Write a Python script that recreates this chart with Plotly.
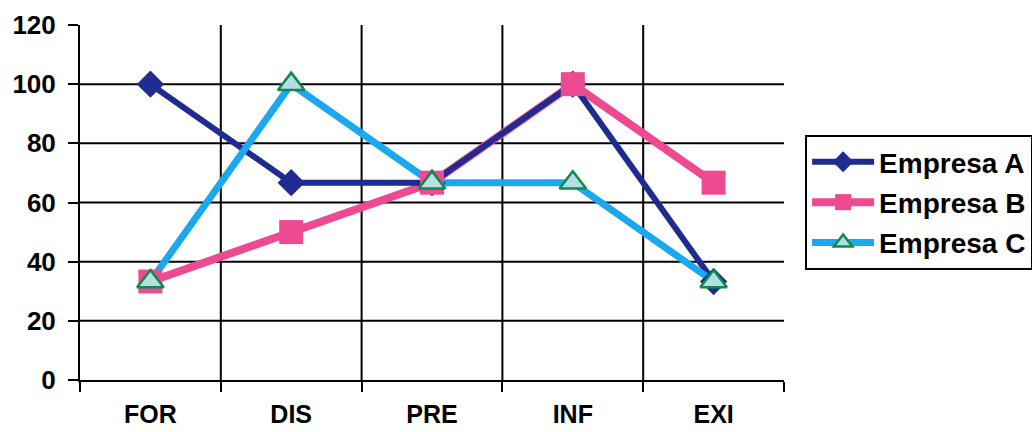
import plotly.graph_objects as go

# Chart data
categories = ["FOR", "DIS", "PRE", "INF", "EXI"]
empresa_a = [100, 66.7, 66.7, 100, 33.3]
empresa_b = [33.3, 50, 66.7, 100, 66.7]
empresa_c = [33.3, 100, 66.7, 66.7, 33.3]
y_ticks = [0, 20, 40, 60, 80, 100, 120]

FONT = dict(family="Arial, Liberation Sans, sans-serif", color="black", weight="bold")

series = {
    "Empresa A": dict(y=empresa_a, color="#1f2b8e", width=6,
                      marker=dict(symbol="diamond", size=21, color="#1f2b8e")),
    "Empresa B": dict(y=empresa_b, color="#ee4a92", width=8,
                      marker=dict(symbol="square", size=24, color="#ee4a92")),
    "Empresa C": dict(y=empresa_c, color="#1ca8ee", width=7,
                      marker=dict(symbol="triangle-up", size=23, color="#b4dde4",
                                  line=dict(color="#0f8a4a", width=2.5))),
}

fig = go.Figure()

# Lines first (stacking order B, A, C), then markers, then legend entries
for name in ["Empresa B", "Empresa A", "Empresa C"]:
    s = series[name]
    fig.add_trace(go.Scatter(x=categories, y=s["y"], mode="lines", showlegend=False,
                             line=dict(color=s["color"], width=s["width"]),
                             hoverinfo="skip"))
for name in ["Empresa A", "Empresa B", "Empresa C"]:
    s = series[name]
    fig.add_trace(go.Scatter(x=categories, y=s["y"], mode="markers", showlegend=False,
                             marker=s["marker"], name=name))
for name in ["Empresa A", "Empresa B", "Empresa C"]:
    s = series[name]
    fig.add_trace(go.Scatter(x=[None], y=[None], mode="lines+markers", name=name,
                             legendgroup=name,
                             line=dict(color=s["color"], width=s["width"]),
                             marker=s["marker"]))

# Gridlines: horizontal at inner y ticks, vertical at category boundaries
shapes = []
for v in y_ticks[1:-1]:
    shapes.append(dict(type="line", xref="paper", yref="y", x0=0, x1=1, y0=v, y1=v,
                       line=dict(color="black", width=2), layer="below"))
for i in range(1, len(categories)):
    shapes.append(dict(type="line", xref="x", yref="paper", x0=i - 0.5, x1=i - 0.5,
                       y0=0, y1=1, line=dict(color="black", width=2), layer="below"))

fig.update_layout(
    width=1032, height=432,
    margin=dict(l=80, r=248, t=25, b=52, autoexpand=False),
    paper_bgcolor="white", plot_bgcolor="white",
    font=FONT,
    shapes=shapes,
    showlegend=True,
    legend=dict(x=1.03, y=0.69, xanchor="left", yanchor="top",
                bordercolor="black", borderwidth=2, bgcolor="white",
                font=dict(size=28, **FONT),
                itemwidth=62, tracegroupgap=1),
    xaxis=dict(type="category", categoryorder="array", categoryarray=categories,
               range=[-0.5, len(categories) - 0.5],
               tickson="boundaries", ticks="outside", ticklen=10, tickwidth=2,
               tickcolor="black", showline=True, linecolor="black", linewidth=2,
               showgrid=False, zeroline=False, tickfont=dict(size=25),
               ticklabelstandoff=11, fixedrange=True),
    yaxis=dict(range=[0, 120], tickvals=y_ticks, ticks="outside", ticklen=10,
               tickwidth=2, tickcolor="black", showline=True, linecolor="black",
               linewidth=2, showgrid=False, zeroline=False, tickfont=dict(size=26),
               ticklabelstandoff=7, fixedrange=True),
)

fig.write_html("out.html")
